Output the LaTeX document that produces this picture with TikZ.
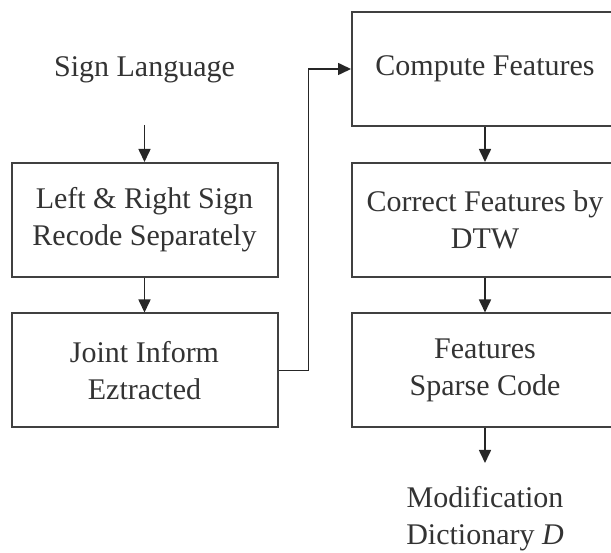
\documentclass[tikz,border=0pt]{standalone}
\usepackage{fontspec}
\setmainfont{Liberation Serif}
\usetikzlibrary{arrows.meta,positioning,calc}
\definecolor{ink}{RGB}{64,64,64}

\begin{document}
\begin{tikzpicture}[x=1pt, y=-1pt, font=\fontsize{30}{37}\selectfont,
  stage/.style={draw=ink, line width=2pt, minimum width=266pt, minimum height=114pt,
    align=center, text=black!80, inner sep=0pt},
  label/.style={align=center, text=black!80, inner sep=0pt},
  flow/.style={draw=black!85, line width=1.6pt, -{Triangle[length=13pt,width=12pt]}}]
\useasboundingbox (0,0) rectangle (611,553);
\clip (0,0) rectangle (611,553);
% left column
\node[label] (sign) at (144.5,70) {Sign Language};
\coordinate (signout) at (144.5,125);
\node[stage] (lrsign) at (144.5,220) {Left \& Right Sign\\Recode Separately};
\node[stage] (joint) at (144.5,370.5) {Joint Inform\\Eztracted};
% right column
\node[stage] (compute) at (485,69) {Compute Features};
\node[stage] (dtw) at (485,220) {Correct Features by\\DTW};
\node[stage] (sparse) at (485,370.5) {Features\\Sparse Code};
\coordinate (dictin) at (485,463);
\node[label] (dict) at (485,519) {Modification\\Dictionary \textit{D}};
% connectors
\draw[flow] (signout) -- (lrsign);
\draw[flow] (lrsign) -- (joint);
\draw[flow] (joint.east) -- ++(30,0) |- (compute.west);
\draw[flow] (compute) -- (dtw);
\draw[flow] (dtw) -- (sparse);
\draw[flow] (sparse) -- (dictin);
\end{tikzpicture}
\end{document}
